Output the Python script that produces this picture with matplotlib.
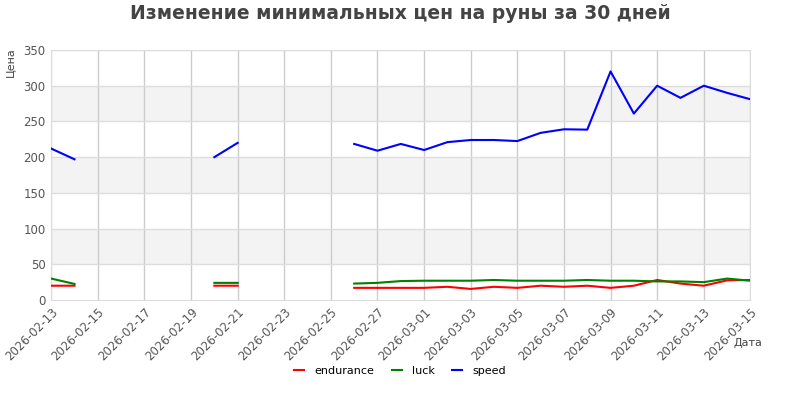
import matplotlib
matplotlib.use("Agg")
import matplotlib.pyplot as plt
import matplotlib.dates as mdates
import numpy as np
import pandas as pd

nan = np.nan

dates = pd.date_range("2026-02-13", "2026-03-15", freq="D")

# 31 daily points, NaN where no price was recorded
endurance = [20, 20, nan, nan, nan, nan, nan, 20, 20, nan, nan, nan, nan,
             17, 17, 17, 17, 18.5, 15.5, 18.5, 17, 20, 18.5, 20, 17, 20,
             28, 23, 20, 27.5, 28]
luck = [30, 22.5, nan, nan, nan, nan, nan, 24, 24, nan, nan, nan, nan,
        23, 24, 26.5, 27, 27, 27, 28, 27, 27, 27, 28, 27, 27,
        26, 26, 25, 30, 27]
speed = [212, 197, nan, nan, nan, nan, nan, 200, 220, nan, nan, nan, nan,
         218.5, 209, 218.5, 210, 221, 224, 224, 222.5, 234, 239, 238.5, 320, 261,
         300, 283, 300, 290, 281]

series = {"endurance": (endurance, "#ff0000"),
          "luck": (luck, "#008000"),
          "speed": (speed, "#0000ff")}

fig = plt.figure(figsize=(8, 4), dpi=100)
ax = fig.add_axes([0.064, 0.25, 0.874, 0.625])

# alternating grey bands and grid
for lo in (50, 150, 250):
    ax.axhspan(lo, lo + 50, color="#f3f3f3", zorder=0, lw=0)
for y in range(50, 351, 50):
    ax.axhline(y, color="#dddddd", lw=1, zorder=1)

for name, (vals, col) in series.items():
    ax.plot(dates, vals, color=col, lw=1.5, label=name, zorder=3)

ax.set_xlim(dates[0], dates[-1])
ax.set_ylim(0, 350)
ax.set_yticks(range(0, 351, 50))
ax.set_xticks(dates[::2])
ax.xaxis.set_major_formatter(mdates.DateFormatter("%Y-%m-%d"))
ax.grid(axis="x", color="#cccccc", lw=1, zorder=1)
ax.set_axisbelow(True)

for s in ax.spines.values():
    s.set_color("#dddddd")
ax.tick_params(length=0, colors="#555555", labelsize=8.5, pad=4)
for lbl in ax.get_xticklabels():
    lbl.set_rotation(45)
    lbl.set_ha("right")
    lbl.set_rotation_mode("anchor")

fig.text(0.5, 0.967, "Изменение минимальных цен на руны за 30 дней",
         ha="center", va="center", fontsize=13.5, fontweight="bold",
         color="#444444")
fig.text(0.006, 0.845, "Цена", rotation=90, ha="left", va="center",
         fontsize=8, color="#444444")
fig.text(0.935, 0.142, "Дата", ha="center", va="center",
         fontsize=8, color="#444444")

fig.legend(loc="center", bbox_to_anchor=(0.5, 0.073), ncol=3, frameon=False,
           fontsize=8, handlelength=0.9, columnspacing=1.6, handletextpad=0.9)

fig.savefig("out.png", dpi=100, facecolor="white")
